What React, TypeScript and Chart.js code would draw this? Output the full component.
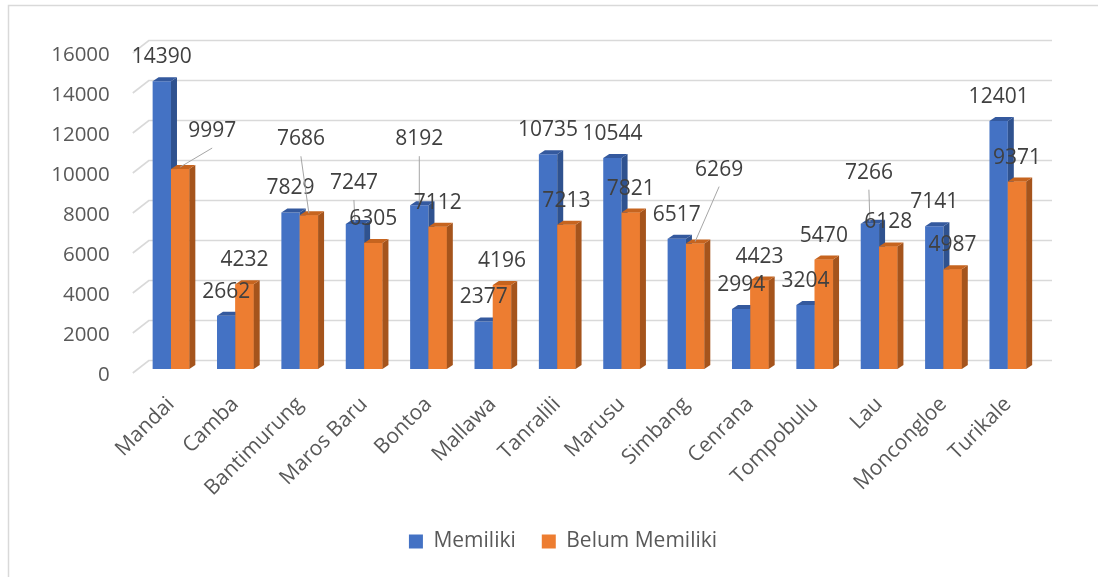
import React, { useEffect, useRef } from 'react';
import { Chart, registerables } from 'chart.js';

Chart.register(...registerables);

const categories = ['Mandai', 'Camba', 'Bantimurung', 'Maros Baru', 'Bontoa', 'Mallawa', 'Tanralili', 'Marusu', 'Simbang', 'Cenrana', 'Tompobulu', 'Lau', 'Moncongloe', 'Turikale'];
const memiliki = [14390, 2662, 7829, 7247, 8192, 2377, 10735, 10544, 6517, 2994, 3204, 7266, 7141, 12401];
const belumMemiliki = [9997, 4232, 7686, 6305, 7112, 4196, 7213, 7821, 6269, 4423, 5470, 6128, 4987, 9371];
const yTickValues = [0, 2000, 4000, 6000, 8000, 10000, 12000, 14000, 16000];
const seriesNames = ['Memiliki', 'Belum Memiliki'];

// label nudges (text only, relative to default placement above each bar)
const memilikiLabelShift: number[][] = [[0, 0], [0, 0], [0, 0], [-1, -17], [0, -42], [0, 0], [0, 0], [0, 0], [0, 0], [0, 0], [0, 0], [-1, -27], [0, 0], [0, 0]];
const belumLabelShift: number[][] = [[32, -14], [0, 0], [-8, -52], [0, 0], [0, 0], [0, 0], [0, 0], [0, 0], [24, -50], [0, 0], [0, 0], [0, 0], [0, 0], [0, 0]];

const BLUE = '#4472C4';
const ORANGE = '#ED7D31';
const BLUE_SIDE = '#2F528F';
const BLUE_TOP = '#34599E';
const ORANGE_SIDE = '#A5541C';
const ORANGE_TOP = '#C6641F';
const FONT = '"Open Sans", "Noto Sans", sans-serif';
const DX = 6;
const DY = 4;
const BACK = 8.5;

const threeDPlugin = {
  id: 'threeD',
  beforeDraw(chart: any) {
    const ctx = chart.ctx;
    ctx.save();
    ctx.fillStyle = '#ffffff';
    ctx.fillRect(0, 0, chart.width, chart.height);
    ctx.strokeStyle = '#D9D9D9';
    ctx.lineWidth = 1.5;
    ctx.beginPath();
    ctx.moveTo(8.5, chart.height);
    ctx.lineTo(8.5, 5.5);
    ctx.lineTo(chart.width, 5.5);
    ctx.stroke();
    ctx.restore();
  },
  beforeDatasetsDraw(chart: any) {
    const ctx = chart.ctx;
    const ys = chart.scales.y;
    const area = chart.chartArea;
    ctx.save();
    ctx.strokeStyle = '#D9D9D9';
    ctx.lineWidth = 1.6;
    ys.ticks.forEach((t: any) => {
      const yf = ys.getPixelForValue(t.value);
      const yb = yf - BACK;
      ctx.beginPath();
      ctx.moveTo(area.left - 6, yf + 4);
      ctx.lineTo(area.left + 10, yb);
      ctx.lineTo(area.right + 12, yb);
      ctx.stroke();
    });
    ctx.restore();
  },
  afterDatasetsDraw(chart: any) {
    const ctx = chart.ctx;
    const metas = [chart.getDatasetMeta(0), chart.getDatasetMeta(1)];
    const fronts = [BLUE, ORANGE];
    const sides = [BLUE_SIDE, ORANGE_SIDE];
    const tops = [BLUE_TOP, ORANGE_TOP];
    ctx.save();
    for (let i = 0; i < categories.length; i++) {
      for (let d = 0; d < 2; d++) {
        const el = metas[d].data[i];
        const p = el.getProps(['x', 'y', 'base', 'width'], true);
        const l = p.x - p.width / 2;
        const r = p.x + p.width / 2;
        if (d === 1) {
          ctx.fillStyle = fronts[d];
          ctx.fillRect(l, p.y, p.width, p.base - p.y);
        }
        // side
        ctx.fillStyle = sides[d];
        ctx.beginPath();
        ctx.moveTo(r, p.y);
        ctx.lineTo(r + DX, p.y - DY);
        ctx.lineTo(r + DX, p.base - DY);
        ctx.lineTo(r, p.base);
        ctx.closePath();
        ctx.fill();
        // top
        ctx.fillStyle = tops[d];
        ctx.beginPath();
        ctx.moveTo(l, p.y);
        ctx.lineTo(l + DX, p.y - DY);
        ctx.lineTo(r + DX, p.y - DY);
        ctx.lineTo(r, p.y);
        ctx.closePath();
        ctx.fill();
      }
    }
    // data labels
    const shifts = [memilikiLabelShift, belumLabelShift];
    const values = [memiliki, belumMemiliki];
    ctx.font = '21px ' + FONT;
    ctx.textAlign = 'center';
    ctx.textBaseline = 'middle';
    for (let d = 0; d < 2; d++) {
      for (let i = 0; i < categories.length; i++) {
        const p = metas[d].data[i].getProps(['x', 'y', 'base', 'width'], true);
        const [sx, sy] = shifts[d][i];
        const lx = p.x + sx;
        const ly = p.y - 24 + sy;
        if (sx !== 0 || sy !== 0) {
          ctx.strokeStyle = '#A6A6A6';
          ctx.lineWidth = 1;
          ctx.beginPath();
          ctx.moveTo(lx, ly + 17);
          ctx.lineTo(p.x, p.y - 2);
          ctx.stroke();
        }
        ctx.fillStyle = '#404040';
        ctx.fillText(String(values[d][i]), lx, ly);
      }
    }
    ctx.restore();
  },
};

export default function App() {
  const canvasRef = useRef<HTMLCanvasElement | null>(null);

  useEffect(() => {
    if (!canvasRef.current) return;
    const chart = new Chart(canvasRef.current, {
      type: 'bar',
      data: {
        labels: categories,
        datasets: [
          {
            label: seriesNames[0],
            data: memiliki,
            backgroundColor: BLUE,
            borderWidth: 0,
            categoryPercentage: 0.57,
            barPercentage: 1,
          },
          {
            label: seriesNames[1],
            data: belumMemiliki,
            backgroundColor: ORANGE,
            borderWidth: 0,
            categoryPercentage: 0.57,
            barPercentage: 1,
          },
        ],
      },
      options: {
        responsive: false,
        animation: false,
        devicePixelRatio: 1,
        layout: { padding: { top: 49, bottom: 15, left: 28, right: 0 } },
        plugins: {
          legend: {
            position: 'bottom',
            labels: {
              boxWidth: 14,
              boxHeight: 14,
              padding: 26,
              color: '#595959',
              font: { size: 21, family: FONT },
            },
          },
          tooltip: { enabled: false },
        },
        scales: {
          x: {
            grid: { display: false, drawTicks: false },
            border: { display: false },
            ticks: {
              autoSkip: false,
              minRotation: 45,
              maxRotation: 45,
              padding: 23,
              color: '#595959',
              font: { size: 21, family: FONT },
            },
            afterFit: (s: any) => {
              s.height = 136;
            },
          },
          y: {
            min: 0,
            max: 16000,
            grid: { display: false, drawTicks: false },
            border: { display: false },
            afterBuildTicks: (s: any) => {
              s.ticks = yTickValues.map((v) => ({ value: v }));
            },
            ticks: {
              padding: 29,
              labelOffset: 6,
              color: '#595959',
              font: { size: 20.5, family: FONT },
              callback: (v: any) => String(v),
            },
            afterFit: (s: any) => {
              s.width = 110.8;
            },
          },
          yRight: {
            position: 'right',
            display: true,
            grid: { display: false, drawTicks: false },
            border: { display: false },
            ticks: { display: false },
            afterFit: (s: any) => {
              s.width = 58;
            },
          },
        },
      },
      plugins: [threeDPlugin],
    } as any);
    return () => chart.destroy();
  }, []);

  return (
    <div style={{ position: 'fixed', left: 0, top: 0, width: 1098, height: 577 }}>
      <canvas ref={canvasRef} width={1098} height={577} />
    </div>
  );
}
